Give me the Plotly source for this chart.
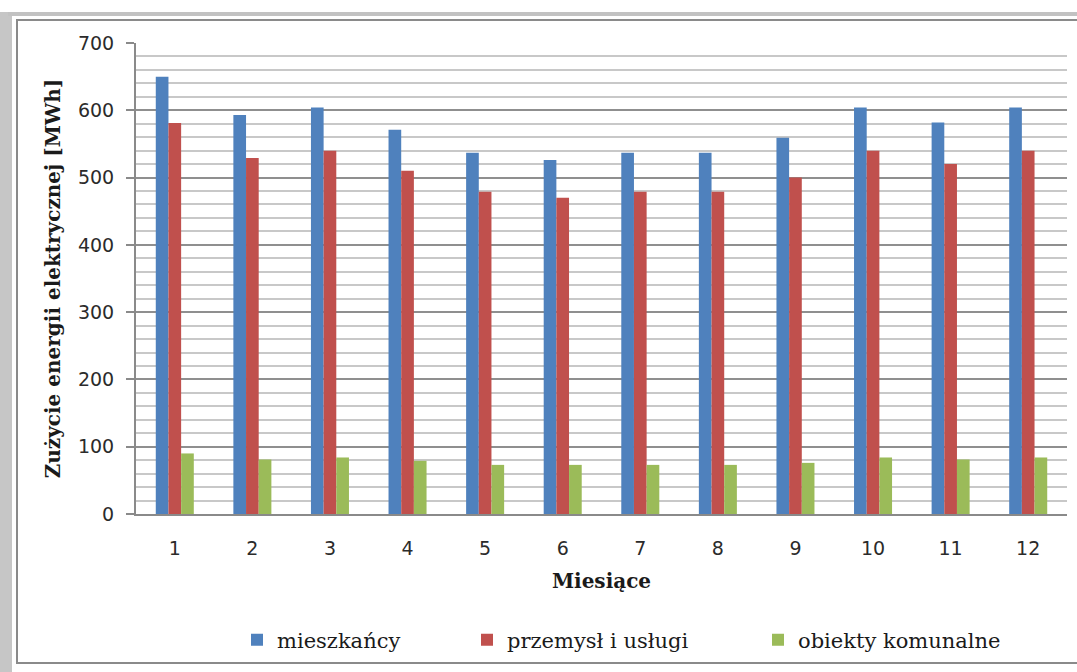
import plotly.graph_objects as go

# Monthly electricity consumption [MWh] by consumer group
months = [str(m) for m in range(1, 13)]
mieszkancy = [650, 593, 604, 571, 537, 526, 537, 537, 559, 604, 582, 604]
przemysl = [581, 529, 540, 510, 479, 470, 479, 479, 500, 540, 520, 540]
komunalne = [90, 81, 84, 79, 73, 73, 73, 73, 76, 84, 81, 84]

series_names = ["mieszkańcy", "przemysł i usługi", "obiekty komunalne"]
series_colors = ["#4F81BD", "#C0504D", "#9BBB59"]

W, H = 1077, 672
L, R, T, B = 136, 10, 43, 158
PW, PH = W - L - R, H - T - B


def px(x):
    return (x - L) / PW


def py(y):
    return (H - B - y) / PH


fig = go.Figure()
for i, (name, vals, col) in enumerate(zip(series_names, [mieszkancy, przemysl, komunalne], series_colors)):
    fig.add_trace(go.Bar(
        x=months, y=vals, name=name, showlegend=True,
        marker=dict(color=col, line=dict(width=0)),
        legend="legend" if i == 0 else f"legend{i + 1}",
    ))

legend_font = dict(family="DejaVu Serif", size=21, color="#1a1a1a")
legend_common = dict(orientation="h", yanchor="middle", y=py(640), xanchor="left",
                     font=legend_font, bgcolor="rgba(0,0,0,0)")

# Chart frame: soft shadow bands and thin border
shapes = [
    dict(type="rect", xref="paper", yref="paper", x0=px(0), x1=px(12), y0=py(672), y1=py(12),
         fillcolor="#c6c6c6", line=dict(width=0), layer="below"),
    dict(type="rect", xref="paper", yref="paper", x0=px(8), x1=px(1077), y0=py(16), y1=py(12),
         fillcolor="#c2c2c2", line=dict(width=0), layer="below"),
    dict(type="rect", xref="paper", yref="paper", x0=px(17), x1=px(1085), y0=py(663), y1=py(20),
         fillcolor="rgba(0,0,0,0)", line=dict(color="#8a8a8a", width=2), layer="below"),
]

fig.update_layout(
    width=W, height=H,
    margin=dict(l=L, r=R, t=T, b=B, autoexpand=False),
    paper_bgcolor="white", plot_bgcolor="white",
    showlegend=True,
    barmode="group", bargap=0.51, bargroupgap=0,
    shapes=shapes,
    legend=dict(x=px(237), **legend_common),
    legend2=dict(x=px(467), **legend_common),
    legend3=dict(x=px(758), **legend_common),
    xaxis=dict(
        type="category",
        showline=True, linecolor="#8a8a8a", linewidth=2,
        showgrid=False, ticks="", ticklabelstandoff=16,
        tickfont=dict(family="DejaVu Sans", size=19, color="#2b2b2b"),
        title=dict(text="Miesiące", standoff=16,
                   font=dict(family="DejaVu Serif", size=20, color="#1a1a1a", weight="bold")),
    ),
    yaxis=dict(
        range=[0, 700], dtick=100,
        showline=True, linecolor="#8a8a8a", linewidth=2,
        showgrid=True, gridcolor="#8f8f8f", gridwidth=2,
        ticks="outside", ticklen=8, tickcolor="#8a8a8a", tickwidth=2,
        ticklabelstandoff=8,
        minor=dict(dtick=20, showgrid=True, gridcolor="#c8c8c8", gridwidth=2),
        zeroline=False,
        tickfont=dict(family="DejaVu Sans", size=19, color="#2b2b2b"),
        title=dict(text="Zużycie energii elektrycznej [MWh]", standoff=12,
                   font=dict(family="DejaVu Serif", size=20, color="#1a1a1a", weight="bold")),
    ),
)

fig.write_html("out.html")
